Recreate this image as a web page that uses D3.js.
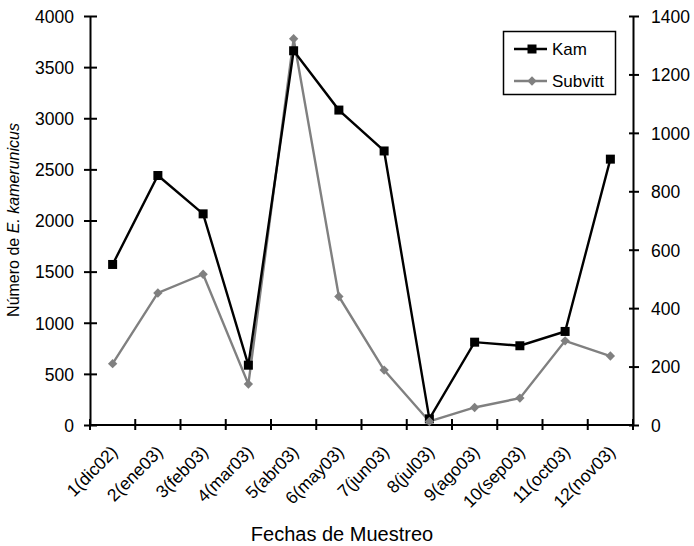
<!DOCTYPE html>
<html><head><meta charset="utf-8">
<script src="https://cdn.jsdelivr.net/npm/d3@7"></script>
<style>body{margin:0;background:#fff}svg{display:block}text{font-family:"Liberation Sans",Arial,sans-serif;fill:#000}</style>
</head><body><svg id="c" width="694" height="546"></svg>
<script>
const categories = ["1(dic02)","2(ene03)","3(feb03)","4(mar03)","5(abr03)","6(may03)","7(jun03)","8(jul03)","9(ago03)","10(sep03)","11(oct03)","12(nov03)"];
const kam = [1570, 2440, 2065, 585, 3660, 3080, 2680, 60, 810, 775, 915, 2600];
const subvitt = [210, 452, 516, 140, 1322, 440, 188, 12, 60, 92, 288, 236];
const leftTicks = [0,500,1000,1500,2000,2500,3000,3500,4000];
const rightTicks = [0,200,400,600,800,1000,1200,1400];
const seriesNames = ["Kam","Subvitt"];

const svg = d3.select("#c");
const L = 90, R = 633, T = 16, B = 425;
const x = d3.scaleBand().domain(categories).range([L, R]);
const yL = d3.scaleLinear().domain([0,4000]).range([B, T]);
const yR = d3.scaleLinear().domain([0,1400]).range([B, T]);
const grey = "#808080";
const FS = 17.5;

// axes
const gL = svg.append("g").attr("transform", `translate(${L},0)`)
  .call(d3.axisLeft(yL).tickValues(leftTicks).tickSize(0).tickPadding(16).tickFormat(d3.format("d")));
gL.selectAll(".tick").append("line").attr("x1",-6).attr("x2",7).attr("stroke","#000").attr("stroke-width",2);
const gR = svg.append("g").attr("transform", `translate(${R},0)`)
  .call(d3.axisRight(yR).tickValues(rightTicks).tickSize(0).tickPadding(18).tickFormat(d3.format("d")));
gR.selectAll(".tick").append("line").attr("x1",-4).attr("x2",6).attr("stroke","#000").attr("stroke-width",2);
const gB = svg.append("g").attr("transform", `translate(0,${B})`);
gB.append("line").attr("x1",L-1).attr("x2",R+1).attr("stroke","#000").attr("stroke-width",2);
const bTicks = d3.range(categories.length+1).map(i => L + i*x.step());
gB.selectAll("line.t").data(bTicks).join("line").attr("class","t")
  .attr("x1",d=>d).attr("x2",d=>d).attr("y1",-6).attr("y2",5).attr("stroke","#000").attr("stroke-width",2);
[gL,gR].forEach(g=>{g.select(".domain").attr("stroke","#000").attr("stroke-width",2);
  g.selectAll("text").attr("font-size",FS).attr("dy","0.36em").style("font-family","Liberation Sans, Arial, sans-serif");});

// x labels
gB.selectAll("text.xl").data(categories).join("text").attr("class","xl")
  .attr("transform", d => `translate(${x(d)+x.bandwidth()/2+6},${28}) rotate(-45)`)
  .attr("text-anchor","end").attr("font-size",FS).text(d=>d);

// titles
svg.append("text").attr("x",342).attr("y",541).attr("text-anchor","middle").attr("font-size",20).text("Fechas de Muestreo");
const yt = svg.append("text").attr("transform","translate(19,220) rotate(-90)").attr("text-anchor","middle").attr("font-size",16);
yt.append("tspan").text("Número de ");
yt.append("tspan").attr("font-style","italic").text("E. kamerunicus");

// lines
const cx = d => x(d)+x.bandwidth()/2;
const lineL = d3.line().x((d,i)=>cx(categories[i])).y(d=>yL(d));
const lineR = d3.line().x((d,i)=>cx(categories[i])).y(d=>yR(d));
svg.append("path").attr("d", lineR(subvitt)).attr("fill","none").attr("stroke",grey).attr("stroke-width",2.4);
svg.append("path").attr("d", lineL(kam)).attr("fill","none").attr("stroke","#000").attr("stroke-width",2.4);
const diamond = d3.symbol().type(d3.symbolDiamond2).size(56);
svg.selectAll("rect.km").data(kam).join("rect").attr("class","km")
  .attr("x",(d,i)=>cx(categories[i])-4.5).attr("y",d=>yL(d)-4.5).attr("width",9).attr("height",9).attr("fill","#000");
svg.selectAll("path.sm").data(subvitt).join("path").attr("class","sm")
  .attr("d", diamond).attr("transform",(d,i)=>`translate(${cx(categories[i])},${yR(d)})`).attr("fill",grey);

// legend
const lg = svg.append("g");
lg.append("rect").attr("x",503.5).attr("y",31.5).attr("width",112).attr("height",63).attr("fill","#fff").attr("stroke","#000").attr("stroke-width",1.5);
const ly = [49, 81];
lg.append("line").attr("x1",514).attr("x2",547).attr("y1",ly[0]).attr("y2",ly[0]).attr("stroke","#000").attr("stroke-width",2.4);
lg.append("rect").attr("x",527.5).attr("y",ly[0]-4.5).attr("width",9).attr("height",9).attr("fill","#000");
lg.append("line").attr("x1",514).attr("x2",547).attr("y1",ly[1]).attr("y2",ly[1]).attr("stroke",grey).attr("stroke-width",2.4);
lg.append("path").attr("d",diamond).attr("transform",`translate(532,${ly[1]})`).attr("fill",grey);
lg.selectAll("text").data(seriesNames).join("text").attr("x",552).attr("y",(d,i)=>ly[i]+6).attr("font-size",17).text(d=>d);
</script></body></html>
